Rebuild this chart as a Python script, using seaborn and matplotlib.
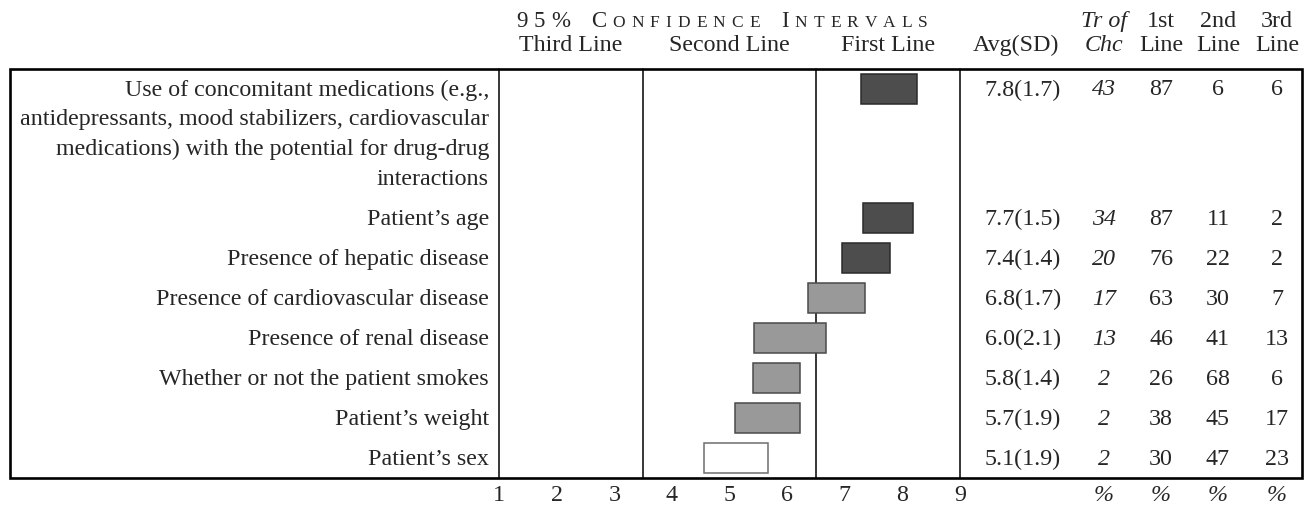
import matplotlib
matplotlib.use("Agg")
import matplotlib.pyplot as plt
import matplotlib.transforms as mtransforms
from matplotlib.patches import Rectangle
import seaborn as sns


labels = [
    "Use of concomitant medications (e.g.,\nantidepressants, mood stabilizers, cardiovascular\n"
    "medications) with the potential for drug-drug\ninteractions",
    "Patient\u2019s age",
    "Presence of hepatic disease",
    "Presence of cardiovascular disease",
    "Presence of renal disease",
    "Whether or not the patient smokes",
    "Patient\u2019s weight",
    "Patient\u2019s sex",
]
avg = [7.8, 7.7, 7.4, 6.8, 6.0, 5.8, 5.7, 5.1]
sd = [1.7, 1.5, 1.4, 1.7, 2.1, 1.4, 1.9, 1.9]
ci_low = [7.28, 7.31, 6.96, 6.37, 5.43, 5.40, 5.10, 4.56]
ci_high = [8.26, 8.19, 7.79, 7.35, 6.67, 6.23, 6.23, 5.66]
rating = ["first", "first", "first", "second", "second", "second", "second", "none"]
tr_of_chc = [43, 34, 20, 17, 13, 2, 2, 2]
first_line = [87, 87, 76, 63, 46, 26, 38, 30]
second_line = [6, 11, 22, 30, 41, 68, 45, 47]
third_line = [6, 2, 2, 7, 13, 6, 17, 23]

zone_edges = [1, 3.5, 6.5, 9]
zone_names = ["Third Line", "Second Line", "First Line"]
scale_ticks = list(range(1, 10))

fill_colors = {"first": "#4d4d4d", "second": "#999999", "none": "#ffffff"}
edge_colors = {"first": "#2a2a2a", "second": "#4a4a4a", "none": "#6e6e6e"}

W, H = 1308, 506
FS = 17.3
WRAP = 0.745  # extra height per wrapped label line, in row units


def fx(px):
    return px / W


def fy(px):
    return 1 - px / H


def tracked_text(fig, x_left, x_right, y, parts, word_gap):
    # letter-spaced text spread evenly between x_left and x_right (pixels)
    renderer = fig.canvas.get_renderer()
    texts, widths = [], []
    for chunk, size in parts:
        for ch in chunk:
            if ch == " ":
                texts.append(None)
                widths.append(word_gap)
                continue
            t = fig.text(0, fy(y), ch, fontsize=size, ha="left", va="baseline")
            texts.append(t)
            widths.append(t.get_window_extent(renderer).width)
    tracking = (x_right - x_left - sum(widths)) / (len(widths) - 1)
    x = x_left
    for t, w in zip(texts, widths):
        if t is not None:
            t.set_x(fx(x))
        x += w + tracking


sns.set_style("white")
plt.rcParams["font.family"] = ["Liberation Serif", "DejaVu Serif"]

fig = plt.figure(figsize=(W / 100, H / 100), dpi=100)
ax = fig.add_axes([fx(499), 27 / H, fx(960) - fx(499), (479 - 70) / H])

# row layout: first line of each row is 1 unit tall, wrapped lines add WRAP
n_lines = [lab.count("\n") + 1 for lab in labels]
row_tops = []
top = 0.0
for n in n_lines:
    row_tops.append(top)
    top += 1 + WRAP * (n - 1)
centers = [t + 0.5 for t in row_tops]

ax.barh(centers, [h - l for l, h in zip(ci_low, ci_high)], left=ci_low, height=0.74,
        color=[fill_colors[r] for r in rating], edgecolor=[edge_colors[r] for r in rating],
        linewidth=1.1, zorder=3)

for e in zone_edges:
    ax.axvline(e, color="black", lw=1.1, zorder=2, clip_on=False)

ax.set_xlim(1, 9)
ax.set_ylim(top, 0)
ax.set_xticks(scale_ticks)
ax.set_xticklabels([str(t) for t in scale_ticks])
ax.set_yticks([])
ax.tick_params(axis="x", length=0, pad=4, labelsize=FS)
for s in ax.spines.values():
    s.set_visible(False)

# outer table box
fig.add_artist(Rectangle((fx(10), 27 / H), fx(1302) - fx(10), (479 - 70) / H,
                         transform=fig.transFigure, fill=False, lw=1.9, color="black"))

# row labels and columns
row_tf = mtransforms.blended_transform_factory(fig.transFigure, ax.transData)
col_avg, col_tr, col_1, col_2, col_3 = 1061, 1104, 1161, 1218, 1277
for i, lab in enumerate(labels):
    for j, line in enumerate(lab.split("\n")):
        fig.text(fx(489), centers[i] + WRAP * j, line, transform=row_tf,
                 ha="right", va="center", fontsize=FS)
    y = centers[i]
    fig.text(fx(col_avg), y, f"{avg[i]:.1f}({sd[i]:.1f})", transform=row_tf,
             ha="right", va="center", fontsize=FS)
    fig.text(fx(col_tr), y, str(tr_of_chc[i]), transform=row_tf,
             ha="center", va="center", fontsize=FS, style="italic")
    for cx, vals in [(col_1, first_line), (col_2, second_line), (col_3, third_line)]:
        fig.text(fx(cx), y, str(vals[i]), transform=row_tf,
                 ha="center", va="center", fontsize=FS)

# headers
hdr_tf = mtransforms.blended_transform_factory(ax.transData, fig.transFigure)
for name, a, b in zip(zone_names, zone_edges[:-1], zone_edges[1:]):
    fig.text((a + b) / 2, fy(51), name, transform=hdr_tf, ha="center", va="baseline", fontsize=FS)

fig.text(fx(col_avg - 2), fy(51), "Avg(SD)", ha="right", va="baseline", fontsize=FS)
fig.text(fx(col_tr), fy(27), "Tr of", ha="center", va="baseline", fontsize=FS, style="italic")
fig.text(fx(col_tr), fy(51), "Chc", ha="center", va="baseline", fontsize=FS, style="italic")
for cx, top_word in [(col_1, "1st"), (col_2, "2nd"), (col_3, "3rd")]:
    fig.text(fx(cx), fy(27), top_word, ha="center", va="baseline", fontsize=FS)
    fig.text(fx(cx), fy(51), "Line", ha="center", va="baseline", fontsize=FS)

# percent markers under the count columns
for cx in [col_tr, col_1, col_2, col_3]:
    fig.text(fx(cx), fy(485), "%", ha="center", va="top", fontsize=FS, style="italic")

tracked_text(fig, 516, 928, 27,
             [("95%", 16.5), (" ", 16.5), ("C", 16.5), ("ONFIDENCE", 12.5), (" ", 16.5),
              ("I", 16.5), ("NTERVALS", 12.5)],
             word_gap=9)

fig.savefig("out.png", dpi=100)
